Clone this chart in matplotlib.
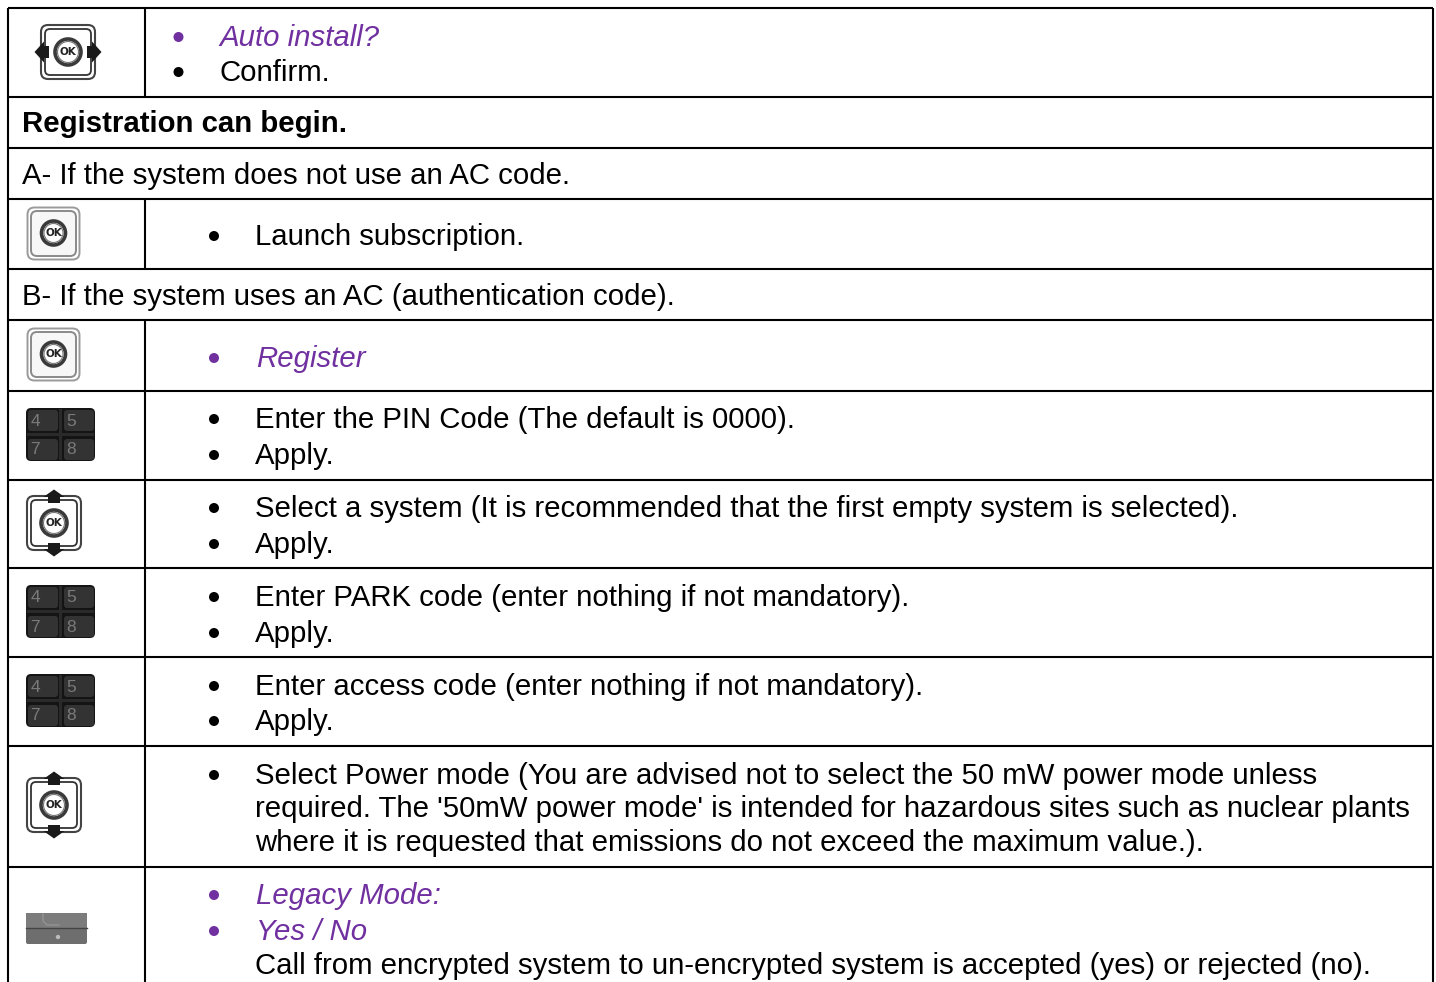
import matplotlib
matplotlib.use("Agg")
import matplotlib.pyplot as plt
from matplotlib.patches import FancyBboxPatch, Circle, Polygon, Rectangle

W, H = 1436, 982
PURPLE = "#7030A0"
FS = 21.12

# horizontal rules and which rows have the column divider
row_edges = [8, 97, 148, 199, 269, 320, 391, 480, 568, 657, 746, 867]
divided_rows = [(8, 97), (199, 269), (320, 391), (391, 480), (480, 568), (568, 657), (657, 746), (746, 867), (867, 982)]

full_rows = [
    ("Registration can begin.", 121, "bold"),
    ("A- If the system does not use an AC code.", 173, "normal"),
    ("B- If the system uses an AC (authentication code).", 294, "normal"),
]
# text, y, colour, italic, bullet
top_items = [("Auto install?", 35, PURPLE, True), ("Confirm.", 70, "black", False)]
items = [
    ("Launch subscription.", 234, "black", False, True),
    ("Register", 356, PURPLE, True, True),
    ("Enter the PIN Code (The default is 0000).", 417, "black", False, True),
    ("Apply.", 453, "black", False, True),
    ("Select a system (It is recommended that the first empty system is selected).", 506, "black", False, True),
    ("Apply.", 542, "black", False, True),
    ("Enter PARK code (enter nothing if not mandatory).", 595, "black", False, True),
    ("Apply.", 631, "black", False, True),
    ("Enter access code (enter nothing if not mandatory).", 684, "black", False, True),
    ("Apply.", 719, "black", False, True),
    ("Select Power mode (You are advised not to select the 50 mW power mode unless", 773, "black", False, True),
    ("required. The '50mW power mode' is intended for hazardous sites such as nuclear plants", 806, "black", False, False),
    ("where it is requested that emissions do not exceed the maximum value.).", 840, "black", False, False),
    ("Legacy Mode:", 893, PURPLE, True, True),
    ("Yes / No", 929, PURPLE, True, True),
    ("Call from encrypted system to un-encrypted system is accepted (yes) or rejected (no).", 963, "black", False, False),
]

plt.rcParams["font.family"] = ["Liberation Sans", "DejaVu Sans"]
fig = plt.figure(figsize=(W / 100, H / 100), dpi=100)
ax = fig.add_axes([0, 0, 1, 1])
ax.set_xlim(0, W)
ax.set_ylim(H, 0)
ax.axis("off")

LW = 1.5
for y in row_edges:
    ax.plot([8, 1433], [y, y], color="black", lw=LW, solid_capstyle="butt")
ax.plot([8, 8], [8, H], color="black", lw=LW, solid_capstyle="butt")
ax.plot([1433, 1433], [8, H], color="black", lw=LW, solid_capstyle="butt")
for a, b in divided_rows:
    ax.plot([145, 145], [a, b], color="black", lw=LW, solid_capstyle="butt")

for txt, y, w in full_rows:
    ax.text(22, y, txt, fontsize=FS, fontweight=w, va="center_baseline", ha="left", color="black")

BR = 5.0
for txt, y, c, it in top_items:
    ax.add_patch(Circle((178.5, y + 2), BR, color=c, lw=0))
    ax.text(219.5, y, txt, fontsize=FS, color=c, style="italic" if it else "normal", va="center_baseline")

for txt, y, c, it, bul in items:
    if bul:
        ax.add_patch(Circle((214, y + 2), BR, color=c, lw=0))
    x = 256 if it else 255
    ax.text(x, y, txt, fontsize=FS, color=c, style="italic" if it else "normal", va="center_baseline")


def ok_badge(cx, cy, r=13):
    ax.add_patch(Circle((cx, cy), r, fc="white", ec="#3a3a3a", lw=2.6, zorder=5))
    ax.add_patch(Circle((cx, cy), r - 2.5, fc="white", ec="#777777", lw=0.8, zorder=5))
    ax.text(cx, cy, "OK", fontsize=7.5, fontweight="bold", family="DejaVu Sans", ha="center", va="center", color="#222222", zorder=6)


def square_ok(x, y):
    ax.add_patch(FancyBboxPatch((x + 4, y + 4), 45, 45, boxstyle="round,pad=0,rounding_size=6", fc="#f7f7f7", ec="#8a8a8a", lw=1.4))
    ax.add_patch(FancyBboxPatch((x + 0.5, y + 0.5), 52, 52, boxstyle="round,pad=0,rounding_size=7", fc="none", ec="#9a9a9a", lw=1.4))
    ok_badge(x + 26.5, y + 26, 12)


def frame(x0, y0, s):
    ax.add_patch(FancyBboxPatch((x0, y0), s, s, boxstyle="round,pad=0,rounding_size=7", fc="white", ec="#444444", lw=1.5))
    ax.add_patch(FancyBboxPatch((x0 + 4, y0 + 4), s - 8, s - 8, boxstyle="round,pad=0,rounding_size=5", fc="none", ec="#333333", lw=1.3))


def lr_icon(cx, cy):
    frame(cx - 27, cy - 27, 54)
    for d in (-1, 1):
        ax.add_patch(Polygon([(cx + d * 19, cy - 6), (cx + d * 24, cy - 6), (cx + d * 24, cy - 10.5),
                              (cx + d * 33.5, cy), (cx + d * 24, cy + 10.5), (cx + d * 24, cy + 6), (cx + d * 19, cy + 6)],
                             fc="#1a1a1a", ec="none", zorder=4))
    ok_badge(cx, cy)


def ud_icon(cx, cy):
    frame(cx - 27, cy - 27, 54)
    for d in (-1, 1):
        ax.add_patch(Polygon([(cx - 6, cy + d * 20), (cx - 6, cy + d * 26), (cx - 10.5, cy + d * 26), (cx, cy + d * 33.5),
                              (cx + 10.5, cy + d * 26), (cx + 6, cy + d * 26), (cx + 6, cy + d * 20)],
                             fc="#1a1a1a", ec="none", zorder=4))
    ok_badge(cx, cy)


def keypad(x, y):
    ax.add_patch(FancyBboxPatch((x, y), 69, 53, boxstyle="round,pad=0,rounding_size=5", fc="#141414", ec="none"))
    ax.add_patch(Rectangle((x + 33, y + 1), 3, 51, fc="#2a2a2a", ec="none"))
    ax.add_patch(Rectangle((x + 1, y + 25), 67, 3, fc="#2a2a2a", ec="none"))
    labels = [("4", 0, 0), ("5", 36, 0), ("7", 0, 29), ("8", 36, 29)]
    for lab, dx, dy in labels:
        ax.add_patch(FancyBboxPatch((x + 2 + dx, y + 2 + dy), 30, 21, boxstyle="round,pad=0,rounding_size=3", fc="#333333", ec="none"))
        ax.text(x + 9 + dx, y + 13 + dy, lab, fontsize=12.5, color="#7a7a7a", ha="center", va="center", family="Liberation Sans")


lr_icon(68, 52)
square_ok(27, 207)
square_ok(27, 328)
keypad(26, 408)
ud_icon(54, 523)
keypad(26, 585)
keypad(26, 674)
ud_icon(54, 805)

# legacy-mode key
ax.add_patch(Rectangle((26, 913), 61, 15, fc="#7c7c7c", ec="none"))
ax.add_patch(FancyBboxPatch((26, 928), 61, 16, boxstyle="round,pad=0,rounding_size=2", fc="#6e6e6e", ec="none"))
ax.plot([26, 87], [928, 928], color="#444444", lw=1.0)
ax.plot([43, 43, 47, 59], [914, 921, 925, 925], color="#999999", lw=0.8)
ax.add_patch(Circle((58, 937), 2.2, color="#bbbbbb", lw=0))

fig.savefig("out.png", dpi=100)
